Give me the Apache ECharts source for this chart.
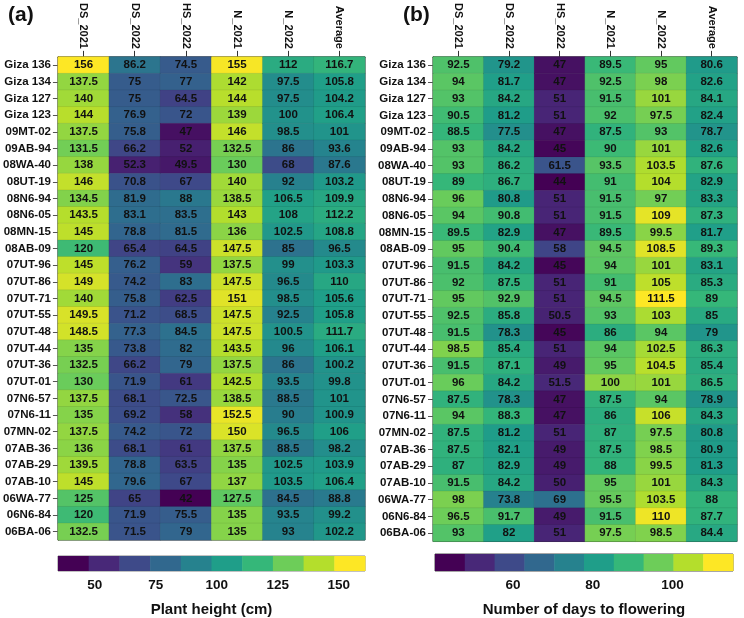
<!DOCTYPE html>
<html>
<head>
<meta charset="utf-8">
<script src="https://cdn.jsdelivr.net/npm/echarts@6/dist/echarts.min.js"></script>
<style>
html,body{margin:0;padding:0;background:#fff;}
#chart{width:744px;height:618px;}
</style>
</head>
<body>
<div id="chart"></div>
<script>
// ---------- categories ----------
const genotypes = ['Giza 136','Giza 134','Giza 127','Giza 123','09MT-02','09AB-94','08WA-40','08UT-19','08N6-94','08N6-05','08MN-15','08AB-09','07UT-96','07UT-86','07UT-71','07UT-55','07UT-48','07UT-44','07UT-36','07UT-01','07N6-57','07N6-11','07MN-02','07AB-36','07AB-29','07AB-10','06WA-77','06N6-84','06BA-06'];
const environments = ['DS_2021','DS_2022','HS_2022','N_2021','N_2022','Average'];

// ---------- (a) plant height (cm) ----------
const heightDS2021 = [156,137.5,140,144,137.5,131.5,138,146,134.5,143.5,145,120,145,149,140,149.5,148.5,135,132.5,130,137.5,135,137.5,136,139.5,145,125,120,132.5];
const heightDS2022 = [86.2,75,75,76.9,75.8,66.2,52.3,70.8,81.9,83.1,78.8,65.4,76.2,74.2,75.8,71.2,77.3,73.8,66.2,71.9,68.1,69.2,74.2,68.1,78.8,79.6,65,71.9,71.5];
const heightHS2022 = [74.5,77,64.5,72,47,52,49.5,67,88,83.5,81.5,64.5,59,83,62.5,68.5,84.5,82,79,61,72.5,58,72,61,63.5,67,42,75.5,79];
const heightN2021  = [155,142,144,139,146,132.5,130,140,138.5,143,136,147.5,137.5,147.5,151,147.5,147.5,143.5,137.5,142.5,138.5,152.5,150,137.5,135,137,127.5,135,135];
const heightN2022  = [112,97.5,97.5,100,98.5,86,68,92,106.5,108,102.5,85,99,96.5,98.5,92.5,100.5,96,86,93.5,88.5,90,96.5,88.5,102.5,103.5,84.5,93.5,93];
const heightAvg    = [116.7,105.8,104.2,106.4,101,93.6,87.6,103.2,109.9,112.2,108.8,96.5,103.3,110,105.6,105.8,111.7,106.1,100.2,99.8,101,100.9,106,98.2,103.9,106.4,88.8,99.2,102.2];

// ---------- (b) number of days to flowering ----------
const daysDS2021 = [92.5,94,93,90.5,88.5,93,93,89,96,94,89.5,95,91.5,92,95,92.5,91.5,98.5,91.5,96,87.5,94,87.5,87.5,87,91.5,98,96.5,93];
const daysDS2022 = [79.2,81.7,84.2,81.2,77.5,84.2,86.2,86.7,80.8,90.8,82.9,90.4,84.2,87.5,92.9,85.8,78.3,85.4,87.1,84.2,78.3,88.3,81.2,82.1,82.9,84.2,73.8,91.7,82];
const daysHS2022 = [47,47,51,51,47,45,61.5,44,51,51,47,58,45,51,51,50.5,45,51,49,51.5,47,47,51,49,49,50,69,49,51];
const daysN2021  = [89.5,92.5,91.5,92,87.5,90,93.5,91,91.5,91.5,89.5,94.5,94,91,94.5,93,86,94,95,100,87.5,86,87,87.5,88,95,95.5,91.5,97.5];
const daysN2022  = [95,98,101,97.5,93,101,103.5,104,97,109,99.5,108.5,101,105,111.5,103,94,102.5,104.5,101,94,106,97.5,98.5,99.5,101,103.5,110,98.5];
const daysAvg    = [80.6,82.6,84.1,82.4,78.7,82.6,87.6,82.9,83.3,87.3,81.7,89.3,83.1,85.3,89,85,79,86.3,85.4,86.5,78.9,84.3,80.8,80.9,81.3,84.3,88,87.7,84.4];

// ---------- colour bar ticks / extents ----------
const heightTicks = [50,75,100,125,150];
const daysTicks = [60,80,100];
const heightBarRange = [35,160.7];
const daysBarRange = [40.4,115.2];

const viridis10 = ['#440154','#482878','#3E4A89','#31688E','#26828E','#1F9E89','#35B779','#6DCD59','#B4DE2C','#FDE725'];
const SANS = '"Liberation Sans",Arial,Helvetica,sans-serif';

function toCells(cols){
  const out = [];
  cols.forEach((col, x) => col.forEach((v, y) => out.push([x, y, v])));
  return out;
}
const heightCells = toCells([heightDS2021,heightDS2022,heightHS2022,heightN2021,heightN2022,heightAvg]);
const daysCells = toCells([daysDS2021,daysDS2022,daysHS2022,daysN2021,daysN2022,daysAvg]);
function ext(cells){ const v = cells.map(c=>c[2]); return [Math.min(...v), Math.max(...v)]; }
const hExt = ext(heightCells), dExt = ext(daysCells);

function bins(range){
  const step = (range[1]-range[0])/10, out = [];
  for (let i=0;i<10;i++) out.push([range[0]+i*step, range[0]+(i+1)*step, i]);
  return out;
}

const gridA = {left:56, top:52, width:309, height:488};
const gridB = {left:433, top:52.5, width:304, height:489};
const barA = {left:58, top:556, width:307, height:19};
const barB = {left:435, top:554, width:298, height:20};

function catX(gi){
  return {type:'category', gridIndex:gi, position:'top', data:environments,
    axisLine:{show:true, lineStyle:{color:'#333', width:1}},
    axisTick:{show:true, alignWithLabel:true, length:6, lineStyle:{color:'#333'}},
    axisLabel:{interval:0, rotate:90, margin:8, fontSize:11, fontWeight:'bold', color:'#111', fontFamily:SANS},
    splitLine:{show:false}};
}
function catY(gi){
  return {type:'category', gridIndex:gi, inverse:true, data:genotypes,
    axisLine:{show:true, lineStyle:{color:'#333', width:1}},
    axisTick:{show:true, alignWithLabel:true, length:5, lineStyle:{color:'#555'}},
    axisLabel:{interval:0, margin:7, fontSize:11.5, fontWeight:'bold', color:'#111', fontFamily:SANS},
    splitLine:{show:false}};
}
function barX(gi, range, ticks, name){
  return {type:'value', gridIndex:gi, min:range[0], max:range[1],
    axisLine:{show:false},
    axisTick:{show:true, inside:true, length:5, customValues:ticks, lineStyle:{color:'#fff', width:1}},
    axisLabel:{customValues:ticks, margin:7, fontSize:13.5, fontWeight:'bold', color:'#111', fontFamily:SANS},
    splitLine:{show:false},
    name:name, nameLocation:'middle', nameGap:31,
    nameTextStyle:{fontSize:15, fontWeight:'bold', color:'#111', fontFamily:SANS}};
}
function barY(gi){ return {type:'value', gridIndex:gi, min:0, max:1, show:false}; }

function heat(xi, cells){
  return {type:'heatmap', xAxisIndex:xi, yAxisIndex:xi, data:cells,
    itemStyle:{borderColor:'rgba(0,0,0,0.14)', borderWidth:0.5},
    label:{show:true, formatter:p=>String(p.value[2]), fontSize:11.5, fontWeight:'bold', color:'#111', fontFamily:SANS},
    emphasis:{disabled:true}};
}
function colorBar(xi, range){
  return {type:'custom', xAxisIndex:xi, yAxisIndex:xi, data:bins(range), silent:true,
    renderItem:function(params, api){
      const p0 = api.coord([api.value(0), 1]);
      const p1 = api.coord([api.value(1), 0]);
      return {type:'rect', shape:{x:p0[0], y:p0[1], width:p1[0]-p0[0]+0.5, height:p1[1]-p0[1]},
        style:{fill:viridis10[api.value(2)]}};
    }};
}

const chart = echarts.init(document.getElementById('chart'), null, {renderer:'canvas'});
chart.setOption({
  backgroundColor:'#fff',
  animation:false,
  title:[
    {text:'(a)', left:3, top:0, textStyle:{fontSize:21, fontWeight:'bold', color:'#111', fontFamily:SANS}},
    {text:'(b)', left:398, top:0, textStyle:{fontSize:21, fontWeight:'bold', color:'#111', fontFamily:SANS}}
  ],
  grid:[
    Object.assign({show:true, borderColor:'#333', borderWidth:1, backgroundColor:'transparent'}, gridA),
    Object.assign({show:true, borderColor:'#333', borderWidth:1, backgroundColor:'transparent'}, gridB),
    Object.assign({show:true, borderColor:'#666', borderWidth:0.8, backgroundColor:'transparent'}, barA),
    Object.assign({show:true, borderColor:'#222', borderWidth:0.8, backgroundColor:'transparent'}, barB)
  ],
  xAxis:[catX(0), catX(1),
    barX(2, heightBarRange, heightTicks, 'Plant height (cm)'),
    barX(3, daysBarRange, daysTicks, 'Number of days to flowering')],
  yAxis:[catY(0), catY(1), barY(2), barY(3)],
  visualMap:[
    {type:'continuous', show:false, seriesIndex:0, dimension:2, min:hExt[0], max:hExt[1], inRange:{color:viridis10}},
    {type:'continuous', show:false, seriesIndex:1, dimension:2, min:dExt[0], max:dExt[1], inRange:{color:viridis10}}
  ],
  series:[heat(0, heightCells), heat(1, daysCells), colorBar(2, heightBarRange), colorBar(3, daysBarRange)]
});
</script>
</body>
</html>
